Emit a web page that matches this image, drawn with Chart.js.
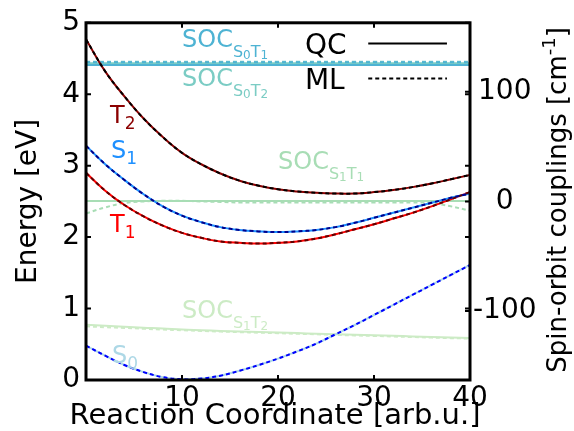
<!DOCTYPE html>
<html>
<head>
<meta charset="utf-8">
<script src="https://cdn.jsdelivr.net/npm/chart.js@4.4.0/dist/chart.umd.min.js"></script>
<style>
  html, body { margin: 0; padding: 0; background: #fff; }
</style>
</head>
<body>
<canvas id="grafico" width="574" height="431"></canvas>
<script>
// coordenada de reacao (arb.u.)
const coords = [0, 2, 4, 6, 8, 10, 12, 14, 16, 18, 20, 22, 24, 26, 28, 30, 32, 34, 36, 38, 40];

// energias em eV (QC e ML ficam praticamente uma em cima da outra)
const energiaS0 = [0.48, 0.34, 0.21, 0.11, 0.04, 0.01, 0.02, 0.06, 0.13, 0.21, 0.30, 0.40, 0.51, 0.64, 0.77, 0.91, 1.05, 1.19, 1.33, 1.47, 1.61];
const energiaS1 = [3.28, 3.02, 2.80, 2.60, 2.43, 2.30, 2.21, 2.14, 2.10, 2.08, 2.07, 2.08, 2.10, 2.14, 2.20, 2.27, 2.34, 2.41, 2.48, 2.55, 2.61];
const energiaT1 = [2.90, 2.65, 2.45, 2.29, 2.16, 2.06, 1.99, 1.94, 1.92, 1.91, 1.92, 1.94, 1.98, 2.04, 2.11, 2.18, 2.26, 2.34, 2.43, 2.53, 2.63];
const energiaT2 = [4.77, 4.32, 3.97, 3.66, 3.40, 3.18, 3.02, 2.89, 2.79, 2.72, 2.67, 2.64, 2.62, 2.61, 2.61, 2.63, 2.66, 2.70, 2.75, 2.81, 2.87];

// spin-orbit couplings em cm-1
const socS0T1qc = [124.5, 124.5, 124.5, 124.5, 124.5, 124.5, 124.5, 124.5, 124.5, 124.5, 124.5, 124.5, 124.5, 124.5, 124.5, 124.5, 124.5, 124.5, 124.5, 124.5, 124.5];
const socS0T1ml = [127, 127, 127, 127, 127, 127, 127, 127, 127, 127, 127, 127, 127, 127, 127, 127, 127, 127, 127, 127, 127];
const socS0T2qc = [126, 126, 126, 126, 126, 126, 126, 126, 126, 126, 126, 126, 126, 126, 126, 126, 126, 126, 126, 126, 126];
const socS0T2ml = [127.5, 127.5, 127.5, 127.5, 127.5, 127.5, 127.5, 127.5, 127.5, 127.5, 127.5, 127.5, 127.5, 127.5, 127.5, 127.5, 127.5, 127.5, 127.5, 127.5, 127.5];
const socS1T1qc = [0.3, 0.3, 0.3, 0.3, 0.3, 0.3, 0.3, 0.3, 0.3, 0.3, 0.3, 0.3, 0.3, 0.3, 0.3, 0.3, 0.3, 0.3, 0.3, 0.3, 0.3];
const socS1T1ml = [-11, -5.5, -1.5, 0, 0.5, 0.5, 0, -0.5, -1, -1, -1, -1, -1, -1, -1, -1, -1, -1, -1.5, -4.5, -8.5];
const socS1T2qc = [-112.5, -113.5, -114.5, -115.3, -116, -117, -117.6, -118.2, -118.8, -119.3, -119.7, -120.2, -120.7, -121.2, -121.7, -122.2, -122.7, -123.2, -123.7, -124.2, -124.6];
const socS1T2ml = [-114, -114.8, -115.5, -116.2, -117, -117.6, -118.2, -118.8, -119.3, -119.8, -120.3, -120.8, -121.3, -121.8, -122.3, -122.8, -123.3, -123.8, -124.3, -124.8, -125.2];

// ticks dos eixos
const ticksX = [10, 20, 30, 40];
const ticksEnergia = [0, 1, 2, 3, 4, 5];
const ticksSoc = [-100, 0, 100];

const fonte = '"DejaVu Sans", sans-serif';
Chart.defaults.font.family = fonte;
Chart.defaults.color = "#000";

function linha(dados, cor, tracejado, eixo) {
  return {
    data: coords.map((x, i) => ({ x: x, y: dados[i] })),
    borderColor: cor,
    borderWidth: 2,
    borderDash: tracejado ? [4, 3] : [],
    pointRadius: 0,
    fill: false,
    tension: 0.4,
    yAxisID: eixo,
  };
}

// o primeiro dataset fica por cima
const datasets = [
  linha(energiaT2, "#000000", true, "y"),
  linha(energiaS1, "#00008b", true, "y"),
  linha(energiaT1, "#600000", true, "y"),
  linha(energiaS0, "#0000ff", true, "y"),
  linha(energiaT2, "#8b0000", false, "y"),
  linha(energiaS1, "#1e90ff", false, "y"),
  linha(energiaT1, "#ff0000", false, "y"),
  linha(energiaS0, "#add8e6", false, "y"),
  linha(socS0T1ml, "#4eb3d3", true, "soc"),
  linha(socS0T2ml, "#7bccc4", true, "soc"),
  linha(socS1T1ml, "#a8ddb5", true, "soc"),
  linha(socS1T2ml, "#ccebc5", true, "soc"),
  linha(socS0T1qc, "#4eb3d3", false, "soc"),
  linha(socS0T2qc, "#7bccc4", false, "soc"),
  linha(socS1T1qc, "#a8ddb5", false, "soc"),
  linha(socS1T2qc, "#ccebc5", false, "soc"),
];

// rotulos dentro do grafico: [texto, tamanho, deslocamento]
const soc = (a, b, c, d) => [["SOC", 24, 0], [a, 16, 10], [b, 12, 12], [c, 16, 10], [d, 12, 12]];
const rotulos = [
  { partes: [["T", 24, 0], ["2", 17, 6]], cor: "#8b0000", x: 2.5, y: 3.60 },
  { partes: [["S", 24, 0], ["1", 17, 6]], cor: "#1e90ff", x: 2.6, y: 3.11 },
  { partes: [["T", 24, 0], ["1", 17, 6]], cor: "#ff0000", x: 2.5, y: 2.07 },
  { partes: [["S", 24, 0], ["0", 17, 6]], cor: "#add8e6", x: 2.7, y: 0.24 },
  { partes: soc("S", "0", "T", "1"), cor: "#4eb3d3", x: 10, y: 4.66 },
  { partes: soc("S", "0", "T", "2"), cor: "#7bccc4", x: 10, y: 4.12 },
  { partes: soc("S", "1", "T", "1"), cor: "#a8ddb5", x: 20, y: 2.96 },
  { partes: soc("S", "1", "T", "2"), cor: "#ccebc5", x: 10, y: 0.87 },
  { partes: [["QC", 28, 0]], cor: "#000", x: 22.8, y: 4.57 },
  { partes: [["ML", 28, 0]], cor: "#000", x: 22.8, y: 4.08 },
];

function textoRico(ctx, partes, x, y) {
  let cx = x;
  for (const [t, tam, dy] of partes) {
    ctx.font = `${tam}px ${fonte}`;
    ctx.fillText(t, cx, y + dy);
    cx += ctx.measureText(t).width;
  }
  return cx - x;
}

const extras = {
  id: "extras",
  afterDraw(chart) {
    const ctx = chart.ctx;
    const area = chart.chartArea;
    const sx = chart.scales.x, sy = chart.scales.y, ss = chart.scales.soc;
    ctx.save();

    // legenda QC / ML
    ctx.strokeStyle = "#000";
    ctx.lineWidth = 2;
    ctx.beginPath();
    ctx.moveTo(sx.getPixelForValue(29.4), sy.getPixelForValue(4.71));
    ctx.lineTo(sx.getPixelForValue(37.6), sy.getPixelForValue(4.71));
    ctx.stroke();
    ctx.setLineDash([4, 3]);
    ctx.beginPath();
    ctx.moveTo(sx.getPixelForValue(29.4), sy.getPixelForValue(4.22));
    ctx.lineTo(sx.getPixelForValue(37.6), sy.getPixelForValue(4.22));
    ctx.stroke();
    ctx.setLineDash([]);

    ctx.textBaseline = "alphabetic";
    ctx.textAlign = "left";
    rotulos.forEach((r) => {
      ctx.fillStyle = r.cor;
      textoRico(ctx, r.partes, sx.getPixelForValue(r.x), sy.getPixelForValue(r.y));
    });

    // ticks pra dentro
    ctx.strokeStyle = "#000";
    ctx.lineWidth = 2;
    ctx.beginPath();
    ticksX.forEach((v) => {
      const px = sx.getPixelForValue(v);
      ctx.moveTo(px, area.bottom); ctx.lineTo(px, area.bottom - 5);
      ctx.moveTo(px, area.top); ctx.lineTo(px, area.top + 5);
    });
    ticksEnergia.forEach((v) => {
      const py = sy.getPixelForValue(v);
      ctx.moveTo(area.left, py); ctx.lineTo(area.left + 5, py);
      ctx.moveTo(area.right, py); ctx.lineTo(area.right - 5, py);
    });
    ticksSoc.forEach((v) => {
      const py = ss.getPixelForValue(v);
      ctx.moveTo(area.right, py); ctx.lineTo(area.right - 5, py);
    });
    ctx.stroke();

    // moldura
    ctx.lineWidth = 3;
    ctx.strokeRect(area.left, area.top, area.right - area.left, area.bottom - area.top);

    // titulo do eixo x
    ctx.fillStyle = "#000";
    ctx.font = `29px ${fonte}`;
    ctx.textAlign = "center";
    ctx.fillText("Reaction Coordinate [arb.u.]", 275, 424);
    ctx.textAlign = "left";

    // titulo do eixo da direita (de baixo pra cima, com expoente)
    ctx.translate(566, 200);
    ctx.rotate(-Math.PI / 2);
    const partesTitulo = [["Spin-orbit couplings [cm", 26, 0], ["-1", 18, -11], ["]", 26, 0]];
    let larg = 0;
    partesTitulo.forEach(([t, tam]) => { ctx.font = `${tam}px ${fonte}`; larg += ctx.measureText(t).width; });
    textoRico(ctx, partesTitulo, -larg / 2, 0);
    ctx.restore();
  },
};

const config = {
  type: "line",
  data: { datasets: datasets },
  options: {
    responsive: false,
    animation: false,
    layout: { padding: { top: 22, left: 0, right: 0, bottom: 0 } },
    plugins: { legend: { display: false }, tooltip: { enabled: false } },
    scales: {
      x: {
        type: "linear",
        min: 0,
        max: 40,
        afterBuildTicks: (s) => { s.ticks = ticksX.map((v) => ({ value: v })); },
        afterFit: (s) => { s.height = 51; },
        grid: { display: false, drawTicks: false },
        border: { display: false },
        ticks: { font: { size: 28 }, padding: 2, maxRotation: 0 },
      },
      y: {
        position: "left",
        min: 0,
        max: 5,
        afterBuildTicks: (s) => { s.ticks = ticksEnergia.map((v) => ({ value: v })); },
        afterFit: (s) => { s.width = 86; },
        grid: { display: false, drawTicks: false },
        border: { display: false },
        ticks: { font: { size: 28 }, padding: 6 },
        title: { display: true, text: "Energy [eV]", font: { size: 28 }, padding: { top: 12, bottom: 0 } },
      },
      soc: {
        position: "right",
        min: -163,
        max: 163,
        afterBuildTicks: (s) => { s.ticks = ticksSoc.map((v) => ({ value: v })); },
        afterFit: (s) => { s.width = 104; },
        grid: { display: false, drawTicks: false },
        border: { display: false },
        ticks: { font: { size: 28 }, padding: 3, crossAlign: "center" },
      },
    },
  },
  plugins: [extras],
};

let myChart = new Chart(document.getElementById("grafico"), config);
</script>
</body>
</html>
